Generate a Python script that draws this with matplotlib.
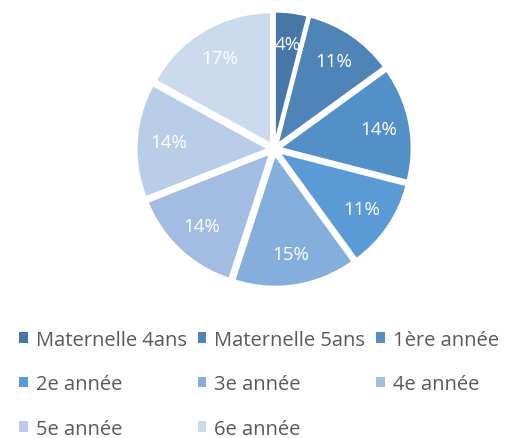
import matplotlib.pyplot as plt
from matplotlib.patches import Patch

plt.rcParams['font.family'] = ['Open Sans', 'DejaVu Sans']

categories = ["Maternelle 4ans", "Maternelle 5ans", "1ère année", "2e année",
              "3e année", "4e année", "5e année", "6e année"]
shares = [4, 11, 14, 11, 15, 14, 14, 17]
colors = ["#4677A8", "#4E84B8", "#5490C8", "#5B9BD5",
          "#84AEDC", "#A2BCE2", "#B9CDE8", "#CBDAEC"]

fig = plt.figure(figsize=(5.10, 4.39), dpi=100)
ax = fig.add_axes([0.253, 0.328, 0.569, 0.66])

wedges, texts, autotexts = ax.pie(
    shares, colors=colors, startangle=90, counterclock=False,
    explode=[0.045] * len(shares), autopct='%d%%', pctdistance=0.76,
    wedgeprops=dict(edgecolor='white', linewidth=1.5),
    textprops=dict(color='white', fontsize=13.5))
ax.set_xlim(-1.1, 1.1)
ax.set_ylim(-1.1, 1.1)
ax.set_aspect('equal')

# reorder so the legend reads row by row like the original
order = [0, 3, 6, 1, 4, 7, 2, 5]
handles = [Patch(facecolor=colors[i], edgecolor='none') for i in order]
labels = [categories[i] for i in order]
leg = fig.legend(handles, labels, loc='lower center', bbox_to_anchor=(0.508, -0.043),
                 ncol=3, frameon=False, fontsize=14.5, handlelength=0.42,
                 handleheight=0.42, handletextpad=0.4, columnspacing=0.55,
                 labelspacing=1.22)
for t in leg.get_texts():
    t.set_color('#595959')

fig.savefig('out.png', dpi=100)
